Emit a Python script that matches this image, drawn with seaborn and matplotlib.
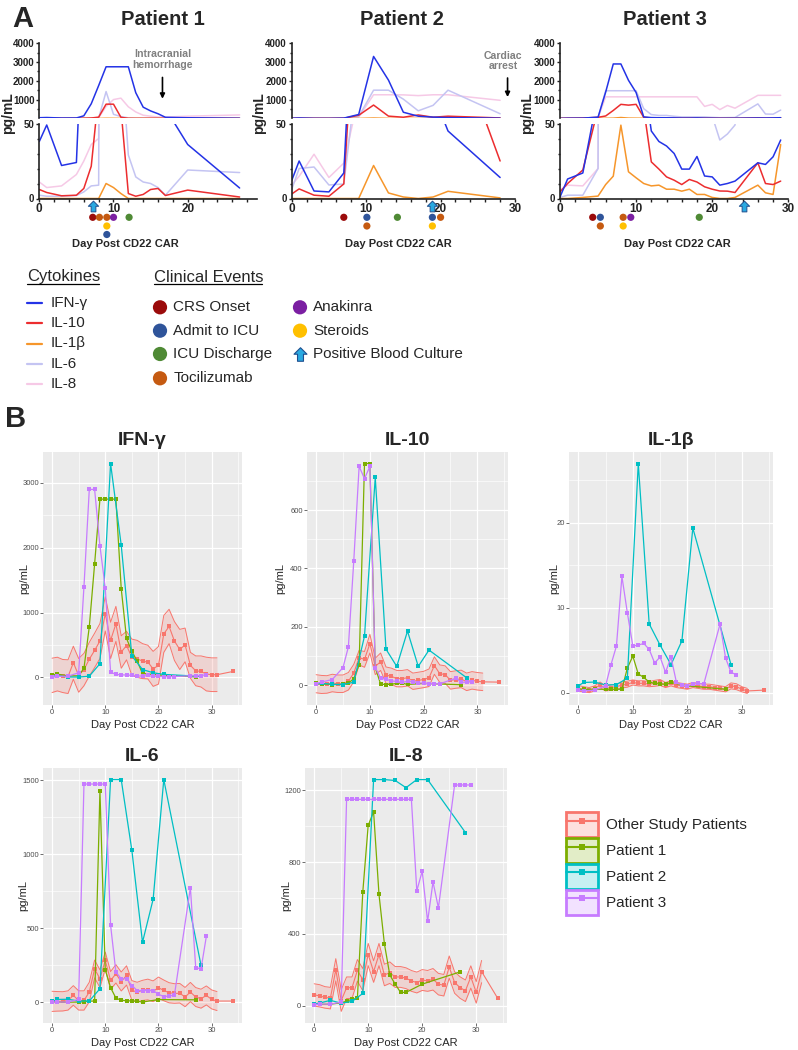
import matplotlib
matplotlib.use("Agg")
import matplotlib.pyplot as plt
import matplotlib.transforms as mtransforms
from matplotlib.colors import to_rgba
from matplotlib.lines import Line2D
from matplotlib.patches import Patch
from matplotlib.path import Path
from matplotlib.ticker import MultipleLocator
import numpy as np
import seaborn as sns

sns.set_theme(style="white")
plt.rcParams['font.family'] = ['Liberation Sans', 'DejaVu Sans']

# ---------------- data ----------------
# cytokine levels (pg/mL) per patient and sampling day
p1_days = [0, 1, 3, 5, 6, 7, 8, 9, 10, 11, 12, 13, 14, 15, 16, 17, 20, 27]
p1_ifng = [38, 49, 22, 24, 140, 780, 1750, 2750, 2750, 2750, 2750, 1370, 600, 400, 250, 60, 36, 7]
p1_il10 = [6, 4, 1.8, 2.2, 6.7, 21.5, 70, 760, 760, 60, 3.3, 1.5, 2.7, 6, 6.7, 2, 5.6, 1]
p1_il6 = [2.2, 1.5, 1.5, 2, 4.4, 8.4, 8.9, 1430, 220, 100, 29, 14.4, 11, 10, 7.3, 2.2, 19, 17.3]
p1_il8 = [11, 7.3, 8.4, 16, 25, 36, 40, 634, 1005, 1080, 620, 345, 171, 120, 74, 74, 120, 188]
p1_il1b_a = [0, 0, 0, 0, 0, 0, 0, 10, 7.3, 3.3, 0, 0, 0, 0, 0, 0, 0, 0]
p1_il1b_b = [0.4, 0.4, 0.4, 0.4, 0.4, 0.4, 0.4, 2.9, 4.3, 2.2, 1.8, 1.25, 1.1, 1.0, 1.0, 1.2, 0.8, 0.4]

p2_days = [0, 1, 3, 5, 7, 9, 11, 13, 15, 17, 19, 21, 28]
p2_ifng = [12, 25, 5, 4.4, 17, 210, 3300, 2040, 330, 120, 70, 45, 14]
p2_il10 = [3, 6.4, 2.2, 1.5, 9.7, 168, 712, 123, 64, 185, 64, 120, 25]
p2_il6 = [6, 20, 21, 9, 9.7, 92, 1505, 1505, 1027, 406, 697, 1505, 250]
p2_il8 = [9, 14.8, 29.5, 14, 23.6, 68, 1260, 1260, 1255, 1215, 1260, 1260, 965]
p2_il1b_a = [0, 0, 0, 0, 0, 0, 22, 3.7, 1, 0, 1, 4.8, 0.4]
p2_il1b_b = [0.8, 1.2, 1.25, 0.9, 0.95, 1.7, 27, 8.1, 5.6, 3.3, 6.1, 19.4, 3.3]

p3_days = [0, 1, 3, 5, 6, 7, 8, 9, 10, 11, 12, 13, 14, 15, 16, 17, 18, 19, 20, 21, 22, 23, 26, 27, 28, 29]
p3_ifng = [1, 13, 17, 70, 1400, 2900, 2900, 2030, 1380, 80, 45, 38, 35, 30, 19.6, 19.6, 28, 15, 14.4,
           8.9, 10, 11.6, 23.8, 22.7, 27.8, 39]
p3_il10 = [4.4, 10, 19, 60, 131, 425, 750, 708, 750, 60, 24.4, 19.6, 14.4, 12.2, 9.3, 12.7, 11, 7.8, 6.2,
           5, 4.9, 4, 23.8, 10, 9.3, 11.6]
p3_il6 = [0.7, 2.2, 2.2, 20, 1475, 1475, 1475, 1475, 1475, 522, 204, 160, 160, 114, 80, 80, 80, 80, 55,
          39, 43, 49, 775, 235, 226, 446]
p3_il8 = [5.6, 8.9, 8.4, 20, 1150, 1150, 1150, 1150, 1150, 1150, 1150, 1150, 1150, 1150, 1150, 1150, 1150,
          640, 750, 470, 690, 545, 1230, 1230, 1230, 1230]
p3_il1b_a = [0, 0, 0.7, 1.6, 9.3, 14.9, 48.9, 17.8, 13.8, 10, 8.4, 8.9, 6.2, 6.2, 4.9, 6.2, 2.7, 2.7, 0.7,
             0, 0, 0.7, 8.9, 3.8, 2.7, 36]
p3_il1b_b = [0.3, 0.2, 0.3, 0.8, 3.3, 5.5, 13.7, 9.4, 5.5, 5.6, 5.8, 5.1, 3.5, 4.2, 2.4, 4.2, 1.2, 0.9, 0.8,
             1.0, 1.1, 1.0, 8.1, 4.1, 2.4, 2.1]

# clinical events: day, row under the axis (0 = arrow row), kind
p1_evt_day = [7.2, 8.1, 9.1, 10.0, 12.1, 9.1, 9.1, 7.2]
p1_evt_row = [1, 1, 1, 1, 1, 2, 3, 0]
p1_evt_kind = ['CRS Onset', 'Tocilizumab', 'Tocilizumab', 'Anakinra', 'ICU Discharge', 'Steroids',
               'Admit to ICU', 'Positive Blood Culture']
p2_evt_day = [7.0, 10.1, 10.1, 14.2, 18.9, 20.0, 18.9, 18.9]
p2_evt_row = [1, 1, 2, 1, 1, 1, 2, 0]
p2_evt_kind = ['CRS Onset', 'Admit to ICU', 'Tocilizumab', 'ICU Discharge', 'Admit to ICU', 'Tocilizumab',
               'Steroids', 'Positive Blood Culture']
p3_evt_day = [4.3, 5.3, 5.3, 8.3, 9.3, 8.3, 18.3, 24.2]
p3_evt_row = [1, 1, 2, 1, 1, 2, 1, 0]
p3_evt_kind = ['CRS Onset', 'Admit to ICU', 'Tocilizumab', 'Tocilizumab', 'Anakinra', 'Steroids',
               'ICU Discharge', 'Positive Blood Culture']

# other study patients: mean and standard error by day
other_days = [0, 1, 2, 3, 4, 5, 6, 7, 8, 9, 10, 11, 12, 13, 14, 15, 16, 17, 18, 19, 20, 21, 22, 23, 24, 25,
              26, 27, 28, 29, 30, 31, 34]
other_ifng = [30, 50, 20, 10, 225, 30, 120, 280, 415, 560, 980, 570, 825, 390, 490, 310, 285, 250, 235, 130,
              185, 670, 785, 560, 430, 500, 185, 100, 90, 50, 40, 40, 90]
other_ifng_se = [265, 260, 255, 260, 255, 260, 250, 260, 265, 270, 265, 280, 270, 250, 220, 280, 285, 270,
                 260, 270, 290, 285, 265, 300, 310, 260, 200, 230, 240, 260, 260, 260]
other_il10 = [4.5, 2, 2, 7, 4.5, 4.5, 13, 41, 94, 88, 142, 64, 80, 34, 30, 22, 22, 25, 13, 16, 19, 25, 67,
              39, 36, 16, 19, 21, 11, 16, 13, 11, 10]
other_il10_se = [31, 31, 30, 30, 30, 30, 30, 30, 25, 27, 32, 28, 30, 28, 28, 28, 28, 28, 28, 28, 28, 30, 30,
                 30, 30, 30, 30, 30, 30, 30, 30, 30]
other_il1b = [0.5, 0.4, 0.3, 0.5, 0.9, 0.5, 0.6, 0.7, 0.9, 1.0, 1.2, 1.1, 1.1, 1.0, 1.1, 1.2, 0.9, 1.1, 0.9,
              0.8, 0.7, 0.9, 0.8, 0.7, 0.7, 0.6, 0.5, 0.4, 0.8, 0.7, 0.4, 0.2, 0.3]
other_il1b_se = [0.35, 0.3, 0.3, 0.3, 0.35, 0.3, 0.3, 0.3, 0.35, 0.35, 0.3, 0.3, 0.3, 0.3, 0.35, 0.35, 0.3,
                 0.3, 0.3, 0.3, 0.3, 0.3, 0.3, 0.3, 0.3, 0.3, 0.3, 0.3, 0.35, 0.35, 0.3, 0.3]
other_il6 = [7, 7, 7, 13, 47, 13, 13, 70, 226, 160, 283, 148, 193, 141, 182, 81, 70, 81, 87, 75, 99, 81, 65,
             60, 62, 36, 70, 36, 25, 47, 20, 9, 9]
other_il6_se = [68, 66, 65, 65, 66, 65, 65, 66, 60, 60, 57, 60, 62, 64, 65, 66, 66, 68, 70, 70, 72, 70, 68,
                66, 66, 65, 65, 64, 64, 64, 64, 64]
other_il8 = [60, 55, 46, 42, 200, 28, 100, 100, 197, 145, 285, 190, 285, 171, 184, 160, 160, 153, 138, 129,
             143, 138, 147, 120, 114, 215, 129, 101, 83, 160, 74, 190, 40]
other_il8_se = [62, 62, 60, 60, 62, 60, 60, 60, 60, 62, 62, 60, 62, 60, 60, 58, 58, 58, 58, 58, 58, 58, 60,
                60, 60, 62, 60, 60, 60, 62, 60, 62]

cyto_labels = ['IFN-γ', 'IL-10', 'IL-1β', 'IL-6', 'IL-8']
cyto_colors = ['#2433e6', '#ec2d2f', '#f6962b', '#c4c4f2', '#f6c9e6']
event_labels = ['CRS Onset', 'Admit to ICU', 'ICU Discharge', 'Tocilizumab', 'Anakinra', 'Steroids',
                'Positive Blood Culture']
event_colors = ['#9b0b0b', '#2f549a', '#4f8a35', '#c55a11', '#7b1fa2', '#ffc000', '#29a9e1']
group_labels = ['Other Study Patients', 'Patient 1', 'Patient 2', 'Patient 3']
group_colors = ['#F8766D', '#7CAE00', '#00BFC4', '#C77CFF']

# ---------------- figure ----------------
W, H = 798, 1050
fig = plt.figure(figsize=(W / 100, H / 100), dpi=100)


def box(x0, y0, x1, y1):
    return [x0 / W, 1 - y1 / H, (x1 - x0) / W, (y1 - y0) / H]


arrow_marker = Path([(-0.22, -0.5), (0.22, -0.5), (0.22, 0.02), (0.48, 0.02), (0, 0.5),
                     (-0.48, 0.02), (-0.22, 0.02), (-0.22, -0.5)],
                    [Path.MOVETO] + [Path.LINETO] * 6 + [Path.CLOSEPOLY])
ev_color = dict(zip(event_labels, event_colors))

# --- Panel A: broken-axis time courses ---
UP_Y = (43.3, 117.5)
LO_Y = (123.5, 198.5)
row_px = {0: 206.0, 1: 217.3, 2: 226.0, 3: 234.5}
patients_a = [
    (39.3, 256.7, 29.3, [0, 10, 20], p1_days,
     [p1_il8, p1_il6, p1_il1b_a, p1_il10, p1_ifng], p1_evt_day, p1_evt_row, p1_evt_kind),
    (291.7, 515.0, 30, [0, 10, 20, 30], p2_days,
     [p2_il8, p2_il6, p2_il1b_a, p2_il10, p2_ifng], p2_evt_day, p2_evt_row, p2_evt_kind),
    (560.0, 788.3, 30, [0, 10, 20, 30], p3_days,
     [p3_il8, p3_il6, p3_il1b_a, p3_il10, p3_ifng], p3_evt_day, p3_evt_row, p3_evt_kind),
]
draw_colors = cyto_colors[::-1]   # IL-8 first, IFN-γ on top
a_axes = []
for x0, x1, xmax, xt, days, series, e_day, e_row, e_kind in patients_a:
    ax_up = fig.add_axes(box(x0, UP_Y[0], x1, UP_Y[1]))
    ax_lo = fig.add_axes(box(x0, LO_Y[0], x1, LO_Y[1]))
    for ax in (ax_up, ax_lo):
        for vals, col in zip(series, draw_colors):
            sns.lineplot(x=days, y=vals, ax=ax, color=col, linewidth=1.1, legend=False, sort=False)
        ax.set_xlim(0, xmax)
        ax.set_facecolor('none')
        ax.spines['top'].set_visible(False)
        ax.spines['right'].set_visible(False)
        ax.spines['left'].set_color('#222222')
        ax.spines['left'].set_linewidth(1.2)
        ax.set_xlabel('')
        ax.set_ylabel('')
        ax.tick_params(which='both', direction='out', colors='#222222', width=1, left=True, bottom=True)
        ax.tick_params(which='major', length=2.5, pad=1)
        ax.tick_params(which='minor', length=1.8)
    ax_up.set_ylim(50, 4000)
    ax_up.set_yticks([1000, 2000, 3000, 4000], labels=['1000', '2000', '3000', '4000'],
                     fontweight='bold', fontsize=7)
    ax_up.yaxis.set_minor_locator(MultipleLocator(500))
    ax_up.spines['bottom'].set_visible(False)
    ax_up.set_xticks([])
    ax_up.tick_params(axis='x', which='both', bottom=False)
    ax_lo.set_ylim(0, 50)
    ax_lo.set_yticks([0, 50], labels=['0', '50'], fontweight='bold', fontsize=7)
    ax_lo.yaxis.set_minor_locator(MultipleLocator(10))
    ax_lo.set_xticks(xt, labels=[str(v) for v in xt], fontweight='bold', fontsize=8.5)
    ax_lo.xaxis.set_minor_locator(MultipleLocator(2))
    ax_lo.spines['bottom'].set_color('#222222')
    ax_lo.spines['bottom'].set_linewidth(1.2)
    # clinical events under the axis
    trans = mtransforms.blended_transform_factory(ax_lo.transData, ax_lo.transAxes)
    for d, r, k in zip(e_day, e_row, e_kind):
        yy = (LO_Y[1] - row_px[r]) / (LO_Y[1] - LO_Y[0])
        if k == 'Positive Blood Culture':
            ax_lo.scatter([d], [yy], transform=trans, marker=arrow_marker, s=60, facecolor=ev_color[k],
                          edgecolor='#1f4f8f', linewidth=0.7, clip_on=False, zorder=6)
        else:
            ax_lo.scatter([d], [yy], transform=trans, marker='o', s=27, color=ev_color[k],
                          edgecolor='none', clip_on=False, zorder=6)
    a_axes.append((ax_up, ax_lo))

# annotations
ax1 = a_axes[0][0]
ax1.annotate('', xy=(16.6, 900), xytext=(16.6, 2330),
             arrowprops=dict(arrowstyle='-|>', color='black', lw=1.2, mutation_scale=7))
ax1.text(16.6, 2600, 'Intracranial\nhemorrhage', ha='center', va='bottom', color='#808080',
         fontweight='bold', fontsize=7.6, linespacing=1.05)
ax2 = a_axes[1][0]
ax2.annotate('', xy=(29.0, 990), xytext=(29.0, 2300),
             arrowprops=dict(arrowstyle='-|>', color='black', lw=1.2, mutation_scale=7))
ax2.text(28.4, 2500, 'Cardiac\narrest', ha='center', va='bottom', color='#808080',
         fontweight='bold', fontsize=7.6, linespacing=1.05)

# --- Panel B: ggplot-style small multiples ---
b_boxes = [(43, 452, 242, 705), (307, 452, 508, 705), (569, 452, 773, 705),
           (43, 768, 242, 1023), (305, 768, 507, 1023)]
b_ylab_x = [-0.07, -0.11, -0.05, -0.075, -0.07]
b_ticks = [[0, 1000, 2000, 3000], [0, 200, 400, 600], [0, 10, 20], [0, 500, 1000, 1500], [0, 400, 800, 1200]]
b_other = [(other_ifng, other_ifng_se), (other_il10, other_il10_se), (other_il1b, other_il1b_se),
           (other_il6, other_il6_se), (other_il8, other_il8_se)]
b_pat = [
    [(p1_days, p1_ifng), (p2_days, p2_ifng), (p3_days, p3_ifng)],
    [(p1_days, p1_il10), (p2_days, p2_il10), (p3_days, p3_il10)],
    [(p1_days, p1_il1b_b), (p2_days, p2_il1b_b), (p3_days, p3_il1b_b)],
    [(p1_days, p1_il6), (p2_days, p2_il6), (p3_days, p3_il6)],
    [(p1_days, p1_il8), (p2_days, p2_il8), (p3_days, p3_il8)],
]
for i in range(5):
    ax = fig.add_axes(box(*b_boxes[i]))
    mean, se = b_other[i]
    rd = np.array(other_days[:len(se)])
    rm = np.array(mean[:len(se)])
    rs = np.array(se)
    oc = group_colors[0]
    ax.fill_between(rd, rm - rs, rm + rs, color=oc, alpha=0.2, linewidth=0)
    sns.lineplot(x=rd, y=rm - rs, ax=ax, color=oc, linewidth=0.7, legend=False)
    sns.lineplot(x=rd, y=rm + rs, ax=ax, color=oc, linewidth=0.7, legend=False)
    sns.lineplot(x=other_days, y=mean, ax=ax, color=oc, linewidth=0.8, marker='s', markersize=2.4,
                 markeredgewidth=0, legend=False)
    for (d, v), col in zip(b_pat[i], group_colors[1:]):
        sns.lineplot(x=d, y=v, ax=ax, color=col, linewidth=0.9, marker='s', markersize=2.4,
                     markeredgewidth=0, legend=False)
    # ggplot-like 5% expansion
    x0, x1 = ax.dataLim.intervalx
    y0, y1 = ax.dataLim.intervaly
    ax.set_xlim(x0 - 0.05 * (x1 - x0), x1 + 0.05 * (x1 - x0))
    ax.set_ylim(y0 - 0.05 * (y1 - y0), y1 + 0.05 * (y1 - y0))
    ax.set_facecolor('#EBEBEB')
    for s in ax.spines.values():
        s.set_visible(False)
    ax.set_xticks([0, 10, 20, 30])
    ax.set_yticks(b_ticks[i])
    ax.xaxis.set_minor_locator(MultipleLocator(5))
    ax.yaxis.set_minor_locator(MultipleLocator((b_ticks[i][1] - b_ticks[i][0]) / 2))
    ax.grid(True, which='major', color='white', linewidth=0.9)
    ax.grid(True, which='minor', color='white', linewidth=0.45)
    ax.set_axisbelow(True)
    ax.tick_params(which='major', direction='out', length=2, width=0.5, color='#333333', labelsize=5.5,
                   labelcolor='#4D4D4D', pad=1, left=True, bottom=True)
    ax.tick_params(which='minor', length=0)
    ax.set_title(cyto_labels[i], fontsize=14, fontweight='bold', pad=5)
    ax.set_xlabel('Day Post CD22 CAR', fontsize=8, labelpad=3)
    ax.set_ylabel('pg/mL', fontsize=8)
    ax.yaxis.set_label_coords(b_ylab_x[i], 0.5)

# legend for panel B
handles = [(Patch(facecolor=to_rgba(c, 0.22), edgecolor=c, linewidth=2),
            Line2D([], [], color=c, linewidth=1.5, marker='s', markersize=5, markeredgewidth=0))
           for c in group_colors]
fig.legend(handles, group_labels, loc='upper left', bbox_to_anchor=(566 / W, 1 - 812 / H), frameon=False,
           fontsize=11, handlelength=2.1, handleheight=2.15, labelspacing=0.05, handletextpad=0.5,
           borderpad=0, borderaxespad=0)

# --- overlay for panel letters, titles and panel A legend (pixel coordinates) ---
ov = fig.add_axes([0, 0, 1, 1])
ov.set_xlim(0, W)
ov.set_ylim(H, 0)
ov.axis('off')
ov.text(23, 19, 'A', fontsize=21, fontweight='bold', ha='center', va='center')
ov.text(16, 419, 'B', fontsize=21, fontweight='bold', ha='center', va='center')
for x, t in zip([163, 402, 665], ['Patient 1', 'Patient 2', 'Patient 3']):
    ov.text(x, 25, t, fontsize=14.5, fontweight='bold', ha='center', va='baseline')
for x in [8, 259, 527]:
    ov.text(x, 113, 'pg/mL', fontsize=10, fontweight='bold', rotation=90, ha='center', va='center')
for x in [125, 398, 677]:
    ov.text(x, 244, 'Day Post CD22 CAR', fontsize=8, fontweight='bold', ha='center', va='center')

ov.text(27, 277, 'Cytokines', fontsize=12, ha='left', va='center')
ov.plot([27, 99], [284, 284], color='black', linewidth=0.9)
for k, (lab, col) in enumerate(zip(cyto_labels, cyto_colors)):
    yy = 302.7 + k * 20.4
    ov.plot([27, 42], [yy, yy], color=col, linewidth=1.6)
    ov.text(50.7, yy, lab, fontsize=11, ha='left', va='center')

ov.text(154, 277, 'Clinical Events', fontsize=12, ha='left', va='center')
ov.plot([154, 262], [284, 284], color='black', linewidth=0.9)
ev_pos = [(160, 307.3), (160, 330.7), (160, 354.0), (160, 378.3), (300, 307.3), (300, 330.7), (300, 354.0)]
for (x, yy), lab, col in zip(ev_pos, event_labels, event_colors):
    if lab == 'Positive Blood Culture':
        ov.scatter([x], [yy], marker=arrow_marker, s=95, facecolor=col, edgecolor='#1f4f8f', linewidth=0.8)
    else:
        ov.scatter([x], [yy], marker='o', s=105, color=col, edgecolor='none')
    ov.text(x + 13.3, yy, lab, fontsize=11, ha='left', va='center')

fig.savefig('out.png', dpi=100)
